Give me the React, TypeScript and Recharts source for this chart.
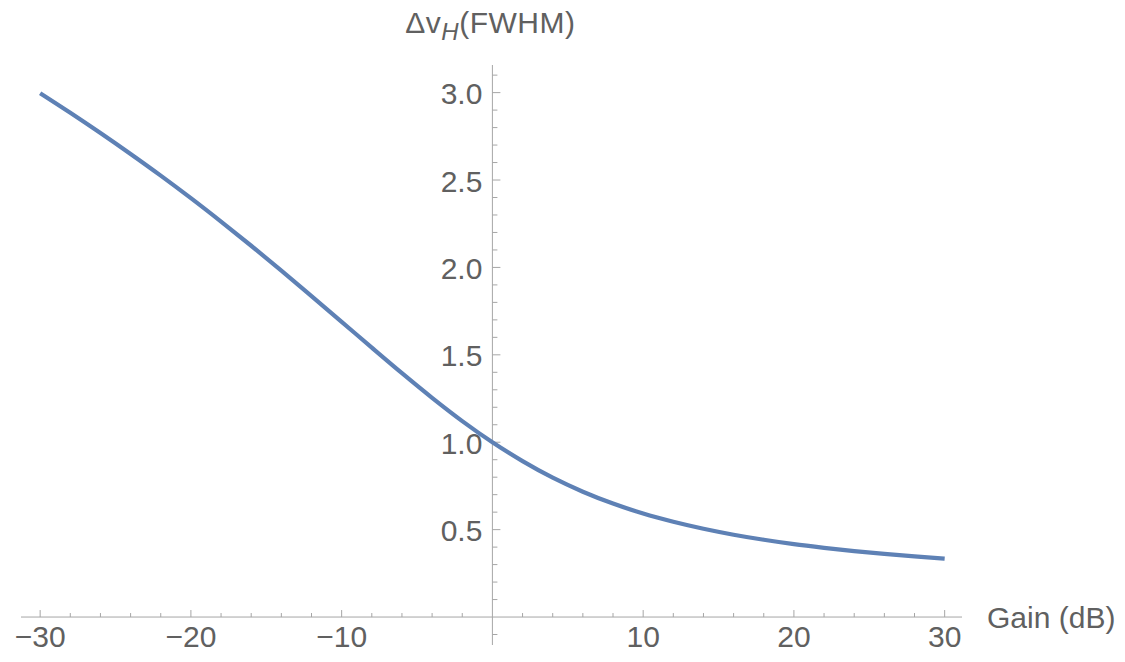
import React from 'react';
import { LineChart, Line, XAxis, YAxis, ReferenceLine } from 'recharts';

// Gain in dB (x) and homogeneous linewidth FWHM ratio (y)
const gainDb = [-30, -28, -26, -24, -22, -20, -18, -16, -14, -12, -10, -8, -6, -4, -2, 0, 2, 4, 6, 8, 10, 12, 14, 16, 18, 20, 22, 24, 26, 28, 30];
const fwhm = [2.997, 2.885, 2.769, 2.649, 2.525, 2.396, 2.262, 2.124, 1.982, 1.836, 1.689, 1.541, 1.395, 1.254, 1.121, 1.0, 0.892, 0.797, 0.717, 0.649, 0.592, 0.545, 0.505, 0.471, 0.442, 0.417, 0.396, 0.377, 0.361, 0.347, 0.334];

const xMajorTicks = [-30, -20, -10, 10, 20, 30];
const xMajorLabels = ['\u221230', '\u221220', '\u221210', '10', '20', '30'];
const xMinorTicks = [-28, -26, -24, -22, -18, -16, -14, -12, -8, -6, -4, -2, 2, 4, 6, 8, 12, 14, 16, 18, 22, 24, 26, 28];

const yMajorTicks = [0.5, 1.0, 1.5, 2.0, 2.5, 3.0];
const yMajorLabels = ['0.5', '1.0', '1.5', '2.0', '2.5', '3.0'];
const yMinorTicks = [-0.1, 0.1, 0.2, 0.3, 0.4, 0.6, 0.7, 0.8, 0.9, 1.1, 1.2, 1.3, 1.4, 1.6, 1.7, 1.8, 1.9, 2.1, 2.2, 2.3, 2.4, 2.6, 2.7, 2.8, 2.9, 3.1];

const xDomain = [-31.27, 31.15];
const yDomain = [-0.16, 3.158];

const xTitle = 'Gain (dB)';
const yTitleMain = '\u0394v';
const yTitleSub = 'H';
const yTitleRest = '(FWHM)';

const data = gainDb.map((g, i) => ({ g, w: fwhm[i] }));

const FONT = '"Liberation Sans", Arial, Helvetica, sans-serif';
const TEXT = '#606060';
const AXIS = '#a6a6a6';
const LINE = '#5E81B5';

const xTick = (len: number, text?: string) => (props: any) => {
  const { x, y } = props.viewBox;
  return (
    <g>
      <line x1={x} x2={x} y1={y} y2={y - len} stroke={AXIS} strokeWidth={1} />
      {text ? (
        <text x={x} y={y + 30} textAnchor="middle" fill={TEXT} fontSize={30} fontFamily={FONT}>
          {text}
        </text>
      ) : null}
    </g>
  );
};

const yTick = (len: number, text?: string) => (props: any) => {
  const { x, y } = props.viewBox;
  return (
    <g>
      <line x1={x} x2={x + len} y1={y} y2={y} stroke={AXIS} strokeWidth={1} />
      {text ? (
        <text x={x - 10} y={y + 11.5} textAnchor="end" fill={TEXT} fontSize={30} fontFamily={FONT}>
          {text}
        </text>
      ) : null}
    </g>
  );
};

const yTitleLabel = (props: any) => {
  const { x, y } = props.viewBox;
  return (
    <text x={x - 2} y={y - 32} textAnchor="middle" fill={TEXT} fontSize={30} fontFamily={FONT} letterSpacing={0.5}>
      {yTitleMain}
      <tspan fontStyle="italic" fontSize={24} dy={7}>{yTitleSub}</tspan>
      <tspan fontSize={30} dy={-7}>{yTitleRest}</tspan>
    </text>
  );
};

export default function App() {
  return (
    <div style={{ position: 'absolute', left: 0, top: 0, background: '#fff' }}>
      <LineChart width={1125} height={662} data={data} margin={{ top: 65, right: 163, bottom: 17, left: 21 }}>
        <XAxis type="number" dataKey="g" domain={xDomain} hide allowDataOverflow />
        <YAxis type="number" domain={yDomain} hide allowDataOverflow />
        <ReferenceLine
          y={0}
          stroke={AXIS}
          strokeWidth={1}
          label={{ value: xTitle, position: 'right', offset: 25, fill: TEXT, fontSize: 30, fontFamily: FONT }}
        />
        <ReferenceLine
          segment={[{ x: 0, y: yDomain[0] }, { x: 0, y: yDomain[1] }]}
          stroke={AXIS}
          strokeWidth={1}
          label={yTitleLabel}
        />
        {xMajorTicks.map((v, i) => (
          <ReferenceLine key={'xM' + v} segment={[{ x: v, y: 0 }, { x: v, y: 0 }]} stroke="none" label={xTick(7, xMajorLabels[i])} />
        ))}
        {xMinorTicks.map((v) => (
          <ReferenceLine key={'xm' + v} segment={[{ x: v, y: 0 }, { x: v, y: 0 }]} stroke="none" label={xTick(4)} />
        ))}
        {yMajorTicks.map((v, i) => (
          <ReferenceLine key={'yM' + v} segment={[{ x: 0, y: v }, { x: 0, y: v }]} stroke="none" label={yTick(8, yMajorLabels[i])} />
        ))}
        {yMinorTicks.map((v) => (
          <ReferenceLine key={'ym' + v} segment={[{ x: 0, y: v }, { x: 0, y: v }]} stroke="none" label={yTick(5)} />
        ))}
        <Line
          type="monotone"
          dataKey="w"
          stroke={LINE}
          strokeWidth={4.2}
          dot={false}
          activeDot={false}
          isAnimationActive={false}
        />
      </LineChart>
    </div>
  );
}
